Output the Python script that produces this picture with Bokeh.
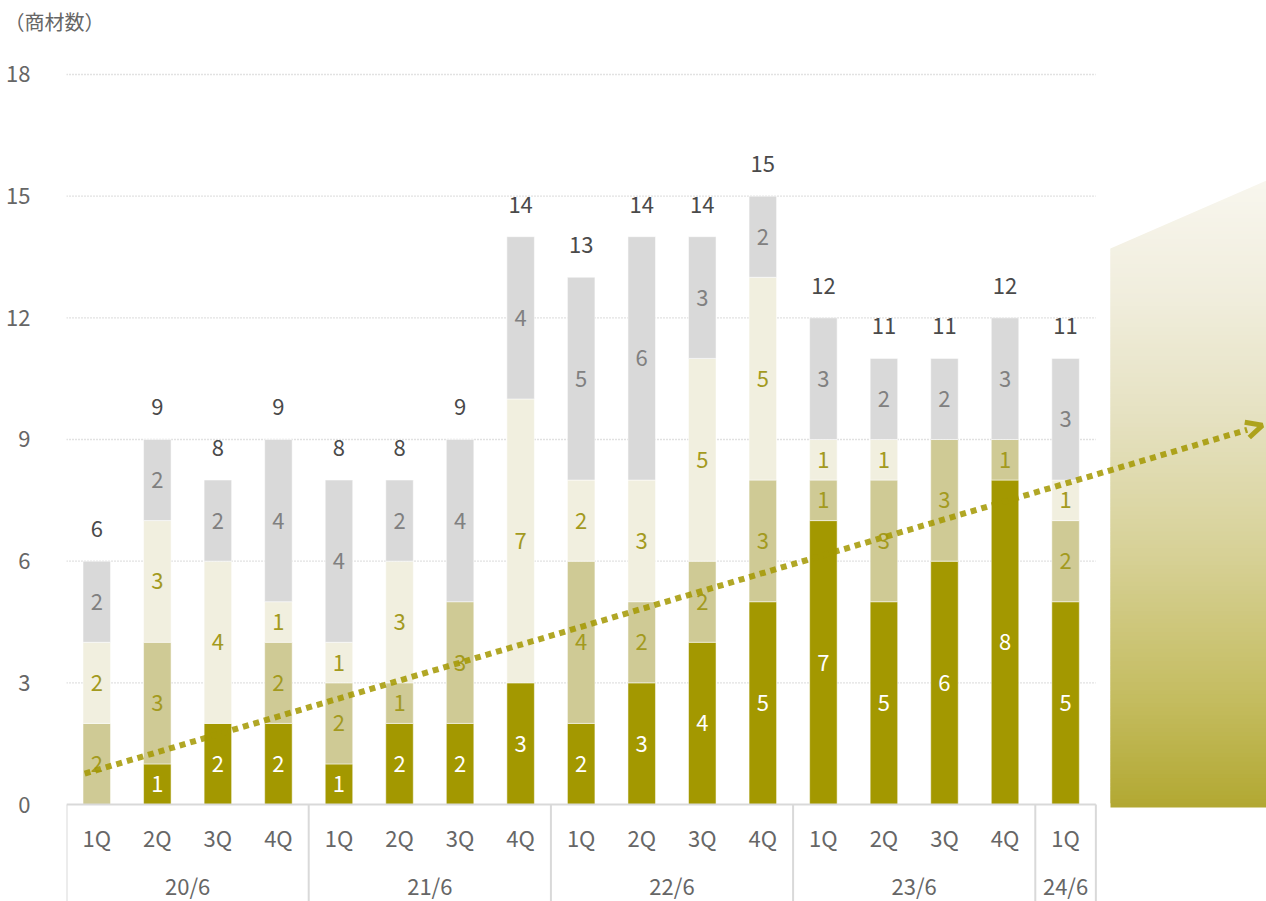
import numpy as np
from bokeh.plotting import figure
from bokeh.models import ColumnDataSource, FixedTicker, Arrow, OpenHead
from bokeh.core.properties import value
from bokeh.embed import file_html
from bokeh.resources import INLINE

# ---------------- data ----------------
quarters = ["1Q", "2Q", "3Q", "4Q", "1Q", "2Q", "3Q", "4Q", "1Q", "2Q", "3Q", "4Q",
            "1Q", "2Q", "3Q", "4Q", "1Q"]
groups = ["20/6", "21/6", "22/6", "23/6", "24/6"]
group_sizes = [4, 4, 4, 4, 1]

series_dark = [0, 1, 2, 2, 1, 2, 2, 3, 2, 3, 4, 5, 7, 5, 6, 8, 5]
series_khaki = [2, 3, 0, 2, 2, 1, 3, 0, 4, 2, 2, 3, 1, 3, 3, 1, 2]
series_cream = [2, 3, 4, 1, 1, 3, 0, 7, 2, 3, 5, 5, 1, 1, 0, 0, 1]
series_gray = [2, 2, 2, 4, 4, 2, 4, 4, 5, 6, 3, 2, 3, 2, 2, 3, 3]

y_ticks = [0, 3, 6, 9, 12, 15, 18]
unit_label = "（商材数）"

# decorative trend arrow (start / end in data coordinates)
trend_start = (-0.2, 0.76)
trend_end = (19.25, 9.35)

# ---------------- styling ----------------
FONT = "Noto Sans CJK JP"
C_DARK = "#a39800"
C_KHAKI = "#cfca95"
C_CREAM = "#f1efdf"
C_GRAY = "#d9d9d9"
LBL_OLIVE = "#a39a1e"
LBL_GRAY = "#808080"
TXT = "#666666"
FS = "22px"

W, H = 1266, 901
LEFT = 66
TOP = 36
px_x = 60.55
px_y = 40.556
y0_px = 804
x_start = -0.5
x_end = x_start + (W - LEFT) / px_x
y_start = -(H - y0_px) / px_y
y_end = (y0_px - TOP) / px_y

p = figure(frame_width=W - LEFT, frame_height=H - TOP,
           x_range=(x_start, x_end), y_range=(y_start, y_end),
           x_axis_location=None, output_backend="svg", toolbar_location=None,
           min_border_left=LEFT, min_border_right=0, min_border_top=TOP, min_border_bottom=0)
p.outline_line_color = None
p.grid.visible = False
p.background_fill_color = "white"
p.border_fill_color = "white"

p.title.text = unit_label
p.title.align = "left"
p.title.offset = -(LEFT - 4)
p.title.text_font = FONT
p.title.text_font_size = "20px"
p.title.text_font_style = "normal"
p.title.text_color = TXT
p.title.standoff = 2

ax = p.yaxis[0]
ax.ticker = FixedTicker(ticks=y_ticks)
ax.axis_line_color = None
ax.major_tick_line_color = None
ax.minor_tick_line_color = None
ax.major_label_standoff = 30
ax.major_label_text_font = FONT
ax.major_label_text_font_size = FS
ax.major_label_text_color = TXT

n = len(quarters)
xs = np.arange(n)
right_edge = n - 0.5

# ---------------- gradient shape on the right ----------------
gx0 = x_start + (1110 - LEFT) / px_x
gx1 = x_end + 0.2
g_bottom = -3 / px_y
g_top_right = (y0_px - 180) / px_y
g_top_left = (y0_px - 248) / px_y
stops_px = [180, 300, 420, 560, 700, 807]
stops_rgb = [(248, 246, 238), (240, 237, 220), (229, 225, 192), (214, 208, 148),
             (196, 188, 95), (178, 168, 50)]
nstrip = 150
edges = np.linspace(g_bottom, g_top_right, nstrip + 1)
step = edges[1] - edges[0]
cols = []
for i in range(nstrip):
    ym = 0.5 * (edges[i] + edges[i + 1])
    ypx = y0_px - ym * px_y
    r = np.interp(ypx, stops_px, [c[0] for c in stops_rgb])
    g = np.interp(ypx, stops_px, [c[1] for c in stops_rgb])
    b = np.interp(ypx, stops_px, [c[2] for c in stops_rgb])
    cols.append("#%02x%02x%02x" % (int(round(r)), int(round(g)), int(round(b))))
tops = np.minimum(edges[1:] + step, g_top_right)
p.quad(left=gx0, right=gx1, bottom=edges[:-1], top=tops, fill_color=cols, line_color=None)
# white mask above the slanted top edge
slope = (g_top_right - g_top_left) / (x_end - gx0)
p.patch(x=[gx0 - 0.02, x_end + 0.5, x_end + 0.5, gx0 - 0.02],
        y=[g_top_left - slope * 0.02, g_top_right + slope * 0.5, y_end + 1, y_end + 1],
        fill_color="white", line_color=None)

# ---------------- grid lines ----------------
gl = [t for t in y_ticks if t != 0]
p.segment(x0=[x_start] * len(gl), x1=[right_edge] * len(gl), y0=gl, y1=gl,
          line_color="#c4c4c4", line_width=1.3, line_dash="1 2")

# ---------------- stacked bars ----------------
series = [(series_dark, C_DARK, "white"), (series_khaki, C_KHAKI, LBL_OLIVE),
          (series_cream, C_CREAM, LBL_OLIVE), (series_gray, C_GRAY, LBL_GRAY)]
bottom = np.zeros(n)
bw = 27.5 / px_x
for vals, col, lcol in series:
    v = np.array(vals, dtype=float)
    top = bottom + v
    mask = v > 0
    src = ColumnDataSource(dict(x=xs[mask], b=bottom[mask], t=top[mask],
                                ym=((bottom + top) / 2)[mask],
                                lab=[str(int(a)) for a in v[mask]]))
    p.vbar(x="x", bottom="b", top="t", width=bw, source=src,
           fill_color=col, line_color="white", line_alpha=0.5, line_width=1)
    p.text(x="x", y="ym", text="lab", source=src, text_align="center",
           text_baseline="middle", text_font=value(FONT), text_font_size=FS,
           text_color=lcol)
    bottom = top

totals = bottom
tsrc = ColumnDataSource(dict(x=xs, y=totals + 32 / px_y, lab=[str(int(t)) for t in totals]))
p.text(x="x", y="y", text="lab", source=tsrc, text_align="center", text_baseline="middle",
       text_font=value(FONT), text_font_size=FS, text_color="#4a4a4a")

# ---------------- category axis (drawn in the lower band) ----------------
p.segment(x0=[x_start], x1=[right_edge], y0=[0], y1=[0], line_color="#d9d9d9", line_width=2)
bounds = [x_start]
acc = 0
for s in group_sizes:
    acc += s
    bounds.append(acc - 0.5)
p.segment(x0=bounds, x1=bounds, y0=[0] * len(bounds), y1=[y_start] * len(bounds),
          line_color="#d9d9d9", line_width=2)
qsrc = ColumnDataSource(dict(x=xs, y=[-(836 - y0_px) / px_y] * n, lab=quarters))
p.text(x="x", y="y", text="lab", source=qsrc, text_align="center", text_baseline="middle",
       text_font=value(FONT), text_font_size=FS, text_color=TXT)
gcent = [(bounds[i] + bounds[i + 1]) / 2 for i in range(len(groups))]
gsrc = ColumnDataSource(dict(x=gcent, y=[-(884 - y0_px) / px_y] * len(groups), lab=groups))
p.text(x="x", y="y", text="lab", source=gsrc, text_align="center", text_baseline="middle",
       text_font=value(FONT), text_font_size=FS, text_color=TXT)

# ---------------- trend arrow ----------------
tslope = (trend_end[1] - trend_start[1]) / (trend_end[0] - trend_start[0])
p.segment(x0=[trend_start[0]], y0=[trend_start[1]], x1=[trend_end[0] - 0.25],
          y1=[trend_end[1] - 0.25 * tslope],
          line_color="#a39800", line_alpha=0.85, line_width=6, line_dash="6 5")
p.add_layout(Arrow(end=OpenHead(size=16, line_width=5, line_color="#a39800", line_alpha=0.85),
                   x_start=trend_end[0] - 0.3, y_start=trend_end[1] - 0.3 * tslope,
                   x_end=trend_end[0], y_end=trend_end[1],
                   line_color="#a39800", line_alpha=0.0, line_width=5))

open("out.html", "w").write(file_html(p, INLINE))
